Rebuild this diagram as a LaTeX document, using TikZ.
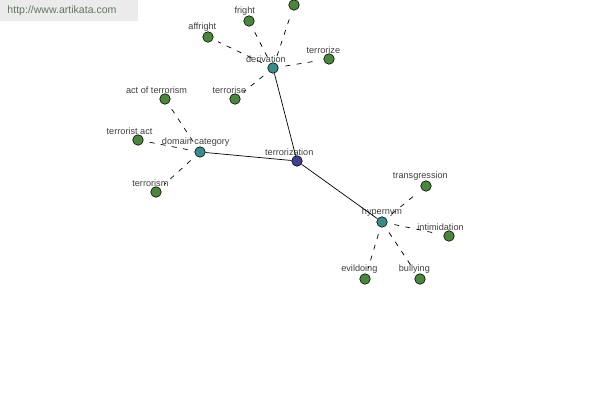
\documentclass[tikz,border=0pt]{standalone}
\usepackage{fontspec}
\setmainfont{Liberation Sans}
\usetikzlibrary{positioning}
\definecolor{leafgreen}{RGB}{72,135,60}
\definecolor{hubteal}{RGB}{56,140,140}
\definecolor{rootblue}{RGB}{64,64,150}
\definecolor{marktext}{RGB}{95,120,95}
\tikzstyle{leaf}=[circle,draw=black,fill=leafgreen,inner sep=0pt,minimum size=7.5pt,line width=0.4pt]
\tikzstyle{hub}=[leaf,fill=hubteal]
\tikzstyle{root}=[leaf,fill=rootblue]
\tikzstyle{lbl}=[font=\fontsize{6.5}{7.5}\selectfont,text=black!75,inner sep=1pt,yshift=-1.5pt]
\tikzstyle{link}=[dash pattern=on 3.5pt off 4.5pt,line width=0.5pt,shorten <=5pt,shorten >=4pt]

\begin{document}
\begin{tikzpicture}[x=0.025cm,y=-0.025cm]
    \useasboundingbox[fill=white] (0,0) rectangle (600,400);
    % watermark
    \fill[black!8] (0,0) rectangle (138,21);
    \node (mark) at (62,11) [font=\fontsize{7.5}{9}\selectfont,text=marktext] {http://www.artikata.com};
    % centre and hubs
    \node (terr) at (297,161) [root,label={[lbl,xshift=-5.5pt]above:terrorization}] {};
    \node (deriv) at (273,68) [hub,label={[lbl,xshift=-5pt]above:derivation}] {};
    \node (domain) at (200,152) [hub,label={[lbl,xshift=-3pt]above:domain category}] {};
    \node (hyper) at (382,222) [hub,label={[lbl]above:hypernym}] {};
    % derivation leaves
    \node (fright) at (249,21) [leaf,label={[lbl,xshift=-3pt]above:fright}] {};
    \node (top) at (294,5) [leaf] {};
    \node (affright) at (208,37) [leaf,label={[lbl,xshift=-4pt]above:affright}] {};
    \node (terrorize) at (329,59) [leaf,label={[lbl,xshift=-4pt]above:terrorize}] {};
    \node (terrorise) at (235,99) [leaf,label={[lbl,xshift=-4pt]above:terrorise}] {};
    % domain category leaves
    \node (actof) at (165,99) [leaf,label={[lbl,xshift=-6pt]above:act of terrorism}] {};
    \node (tact) at (138,140) [leaf,label={[lbl,xshift=-6pt]above:terrorist act}] {};
    \node (tism) at (156,192) [leaf,label={[lbl,xshift=-4pt]above:terrorism}] {};
    % hypernym leaves
    \node (trans) at (426,186) [leaf,label={[lbl,xshift=-4pt]above:transgression}] {};
    \node (intim) at (449,236) [leaf,label={[lbl,xshift=-6pt]above:intimidation}] {};
    \node (evil) at (365,279) [leaf,label={[lbl,xshift=-4pt]above:evildoing}] {};
    \node (bully) at (420,279) [leaf,label={[lbl,xshift=-4pt]above:bullying}] {};
    \path[line width=0.5pt]
    		(terr) edge (deriv)
    		(terr) edge (domain)
    		(terr) edge (hyper);
    \path[link]
    		(deriv) edge (fright)
    		(deriv) edge (top)
    		(deriv) edge (affright)
    		(deriv) edge (terrorize)
    		(deriv) edge (terrorise)
    		(domain) edge (actof)
    		(domain) edge (tact)
    		(domain) edge (tism)
    		(hyper) edge (trans)
    		(hyper) edge (intim)
    		(hyper) edge (evil)
    		(hyper) edge (bully);
\end{tikzpicture}
\end{document}
